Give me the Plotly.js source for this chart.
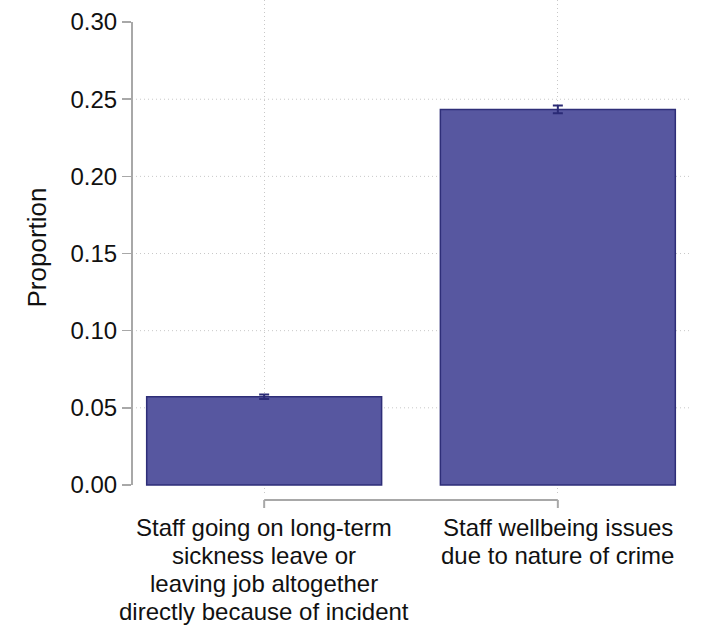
<!DOCTYPE html>
<html>
<head>
<meta charset="utf-8">
<script src="https://cdn.plot.ly/plotly-3.0.1.min.js"></script>
<style>html,body{margin:0;padding:0;background:#fff;}#chart{width:703px;height:629px;}</style>
</head>
<body>
<div id="chart"></div>
<script>
const categories = [
  "Staff going on long-term sickness leave or leaving job altogether directly because of incident",
  "Staff wellbeing issues due to nature of crime"
];
const labelLines = [
  ["Staff going on long-term", "sickness leave or", "leaving job altogether", "directly because of incident"],
  ["Staff wellbeing issues", "due to nature of crime"]
];
const proportions = [0.0572, 0.2434];
const errors = [0.0015, 0.0025];
const yTicks = [0, 0.05, 0.10, 0.15, 0.20, 0.25, 0.30];
const yTitle = "Proportion";

const FONT = "Liberation Sans, Arial, Helvetica, sans-serif";
const plotH = 629 - 134;
const DOT = '1px,3px';

const shapes = [];
shapes.push({type:'line', xref:'paper', yref:'y', x0:0, x1:0, y0:yTicks[0], y1:yTicks[yTicks.length-1],
  line:{color:'#a8a8a8', width:2}});
yTicks.slice(1, -1).forEach(v => {
  shapes.push({type:'line', xref:'paper', yref:'y', x0:0, x1:1, y0:v, y1:v, layer:'below',
    line:{color:'#c8c8c8', width:1, dash:DOT}});
});
const yb = -5/plotH, yt = -13/plotH;
shapes.push({type:'line', xref:'x', yref:'paper', x0:categories[0], x1:categories[categories.length-1], y0:yb, y1:yb,
  line:{color:'#a8a8a8', width:2}});
categories.forEach(c => {
  shapes.push({type:'line', xref:'x', yref:'paper', x0:c, x1:c, y0:yb, y1:yt, line:{color:'#a8a8a8', width:2}});
});

const annotations = [];
categories.forEach((c, i) => {
  labelLines[i].forEach((txt, j) => {
    annotations.push({x:c, xref:'x', y:0, yref:'paper', yanchor:'middle', xanchor:'center', borderpad:0,
      yshift:-32 - j*28, text:txt, showarrow:false, font:{family:FONT, size:24, color:'#111'}});
  });
});

const trace = {
  type:'bar', x:categories, y:proportions, width:0.8,
  marker:{color:'#5757a0', line:{color:'#2e2e78', width:1.5}},
  error_y:{type:'data', array:errors, visible:true, color:'#2a2a75', thickness:2, width:5},
  hoverinfo:'none'
};

const layout = {
  width:703, height:629,
  margin:{l:132, r:13, t:0, b:134},
  paper_bgcolor:'#fff', plot_bgcolor:'#fff',
  font:{family:FONT, color:'#111'},
  showlegend:false,
  xaxis:{type:'category', range:[-0.45, 1.45], showgrid:true, griddash:DOT, gridcolor:'#c8c8c8', gridwidth:1,
    showticklabels:false, ticks:'', showline:false, zeroline:false},
  yaxis:{range:[-0.0065, 0.3143], tickvals:yTicks, tickformat:'.2f', ticks:'outside', ticklen:9, tickwidth:1.5,
    tickcolor:'#a8a8a8', showgrid:false, zeroline:false, showline:false,
    tickfont:{family:FONT, size:24, color:'#111'},
    title:{text:yTitle, font:{family:FONT, size:26, color:'#111'}, standoff:16}},
  shapes:shapes,
  annotations:annotations
};

Plotly.newPlot('chart', [trace], layout, {displayModeBar:false, staticPlot:true});
</script>
</body>
</html>
